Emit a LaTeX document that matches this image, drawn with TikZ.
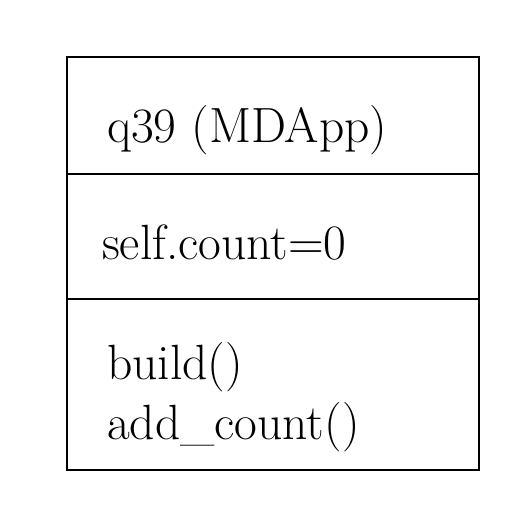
\documentclass[tikz,border=0pt]{standalone}
\usepackage{fontspec}
\begin{document}
\begin{tikzpicture}[x=1pt,y=1pt,
  boxline/.style={draw=black,line width=2pt},
  txt/.style={anchor=base west,inner sep=0pt,font=\fontsize{49.5}{58}\selectfont}]
\useasboundingbox (0,0) rectangle (527,510);
\coordinate (tl) at (67,453);
\coordinate (br) at (479,40);
\draw[boxline] (tl) rectangle (br);
\coordinate (d1l) at (67,336);
\coordinate (d1r) at (479,336);
\coordinate (d2l) at (67,211);
\coordinate (d2r) at (479,211);
\draw[boxline] (d1l) -- (d1r);
\draw[boxline] (d2l) -- (d2r);
\node[txt] (name) at (107,367) {q39 (MDApp)};
\node[txt] (attr) at (102,250) {self.count=0};
\node[txt] (m1) at (107,130) {build()};
\node[txt] (m2) at (107,70) {add\_count()};
\end{tikzpicture}
\end{document}
